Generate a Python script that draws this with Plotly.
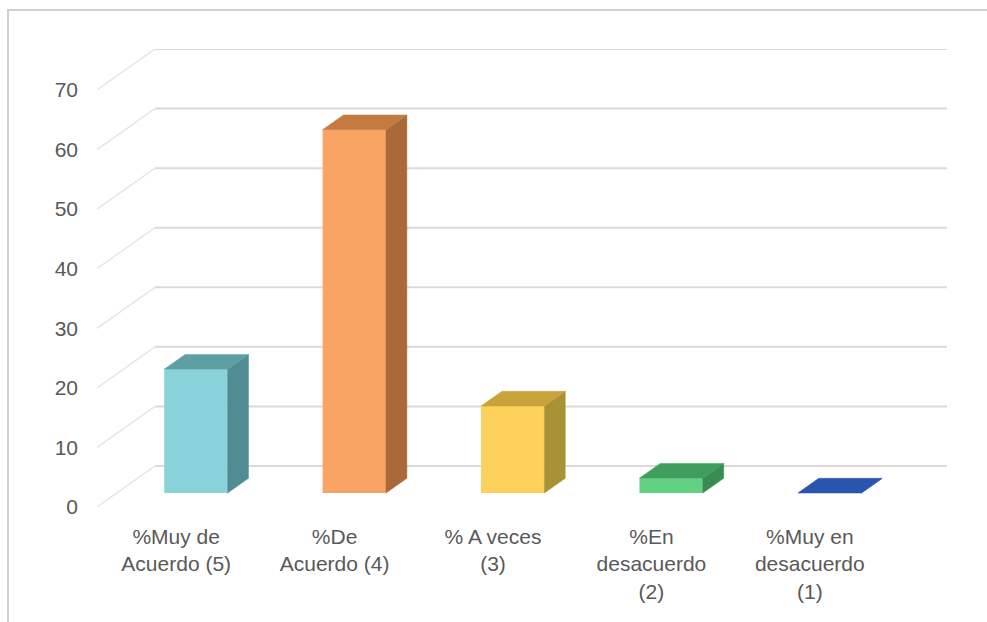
import plotly.graph_objects as go

# ---- data ----
categories = ["%Muy de<br>Acuerdo (5)", "%De<br>Acuerdo (4)", "% A veces<br>(3)",
              "%En<br>desacuerdo<br>(2)", "%Muy en<br>desacuerdo<br>(1)"]
values = [20.8, 61.0, 14.6, 2.5, 0.0]
y_ticks = [0, 10, 20, 30, 40, 50, 60, 70]

front_colors = ["#89D2DA", "#F9A462", "#FDD25C", "#62D183", "#3263C4"]
top_colors = ["#5E9FA4", "#C47A40", "#C8A33A", "#3F9E5D", "#2A55AE"]
side_colors = ["#4F8D92", "#A9693A", "#A89236", "#3A8A54", "#24489A"]

# ---- 3D oblique geometry (style) ----
DEPTH_X = 0.366   # full floor depth in category units
DEPTH_Y = 6.88    # full floor depth in value units
BAR_FRONT = 0.34  # bar front position as fraction of depth
BAR_BACK = 0.70
BAR_W = 0.40
X0, X1 = -0.5, len(categories) - 0.5

fig = go.Figure()

grid_col = "#DADADA"
diag_col = "#E6E6E6"
shapes = [dict(type="rect", xref="paper", yref="paper", x0=-89/850, x1=1.2,
               y0=-0.4, y1=1 + 39/458, line=dict(color="#D0D0D0", width=2),
               layer="below")]
# back-wall gridlines and left diagonals
for v in y_ticks:
    shapes.append(dict(type="line", xref="x", yref="y", layer="below",
                       x0=X0 + DEPTH_X, x1=X1 + DEPTH_X, y0=v + DEPTH_Y, y1=v + DEPTH_Y,
                       line=dict(color=grid_col, width=2)))
    shapes.append(dict(type="line", xref="x", yref="y", layer="below",
                       x0=X0, x1=X0 + DEPTH_X, y0=v, y1=v + DEPTH_Y,
                       line=dict(color=diag_col, width=1.5)))

fx = BAR_FRONT * DEPTH_X
fy = BAR_FRONT * DEPTH_Y
dx = (BAR_BACK - BAR_FRONT) * DEPTH_X
dy = (BAR_BACK - BAR_FRONT) * DEPTH_Y

for i, v in enumerate(values):
    xl = i - BAR_W / 2 + fx
    xr = i + BAR_W / 2 + fx
    # side face
    fig.add_trace(go.Scatter(x=[xr, xr + dx, xr + dx, xr, xr],
                             y=[fy, fy + dy, fy + v + dy, fy + v, fy],
                             fill="toself", fillcolor=side_colors[i], mode="lines",
                             line=dict(color=side_colors[i], width=0.5),
                             hoverinfo="skip", showlegend=False))
    # top face
    fig.add_trace(go.Scatter(x=[xl, xr, xr + dx, xl + dx, xl],
                             y=[fy + v, fy + v, fy + v + dy, fy + v + dy, fy + v],
                             fill="toself", fillcolor=top_colors[i], mode="lines",
                             line=dict(color=top_colors[i], width=0.5),
                             hoverinfo="skip", showlegend=False))

# front faces
fig.add_trace(go.Bar(x=[i + fx for i in range(len(values))], y=values, base=fy,
                     width=BAR_W, marker=dict(color=front_colors, line=dict(width=0)),
                     showlegend=False, hoverinfo="skip"))

font_col = "#595959"
fig.update_layout(
    width=987, height=622,
    margin=dict(l=97, r=40, t=49, b=115),
    paper_bgcolor="white", plot_bgcolor="white",
    font=dict(family="Liberation Sans, Arial, sans-serif", size=21, color=font_col),
    xaxis=dict(range=[X0, X1 + DEPTH_X], tickvals=list(range(len(categories))),
               ticktext=categories, showgrid=False, zeroline=False, showline=False,
               ticks="", ticklabelstandoff=15, fixedrange=True),
    yaxis=dict(range=[0, 70 + DEPTH_Y], tickvals=y_ticks, showgrid=False,
               zeroline=False, showline=False, ticks="", ticklabelstandoff=18,
               fixedrange=True),
    shapes=shapes,
)

fig.write_html("out.html")
